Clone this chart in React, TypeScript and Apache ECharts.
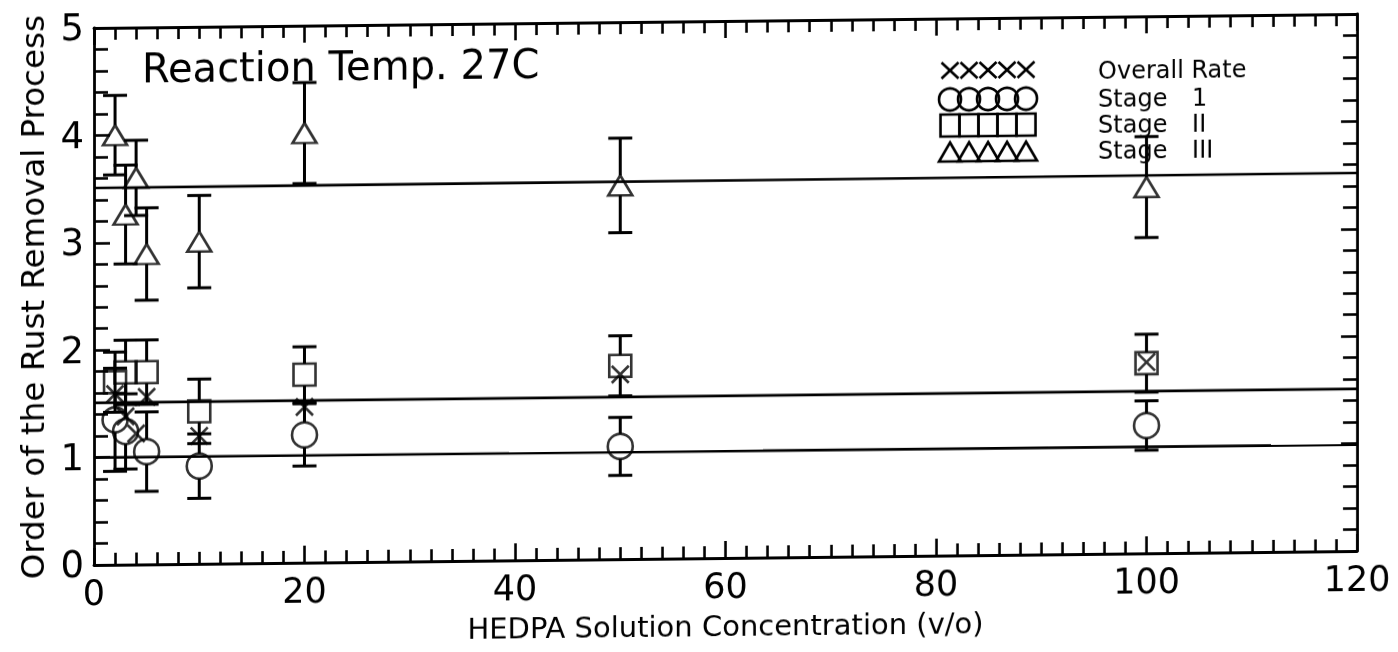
import React, { useEffect, useRef } from "react";
import * as echarts from "echarts";

const FONT = "'DejaVu Sans', 'Liberation Sans', sans-serif";
const INK = "#000";

// HEDPA concentration (v/o) for each measured point
const stage3X = [2, 3, 4, 5, 10, 20, 50, 100];
const stage3Y = [4.0, 3.26, 3.6, 2.89, 3.0, 4.0, 3.48, 3.41];
const stage3Err = [0.37, 0.46, 0.35, 0.43, 0.43, 0.47, 0.44, 0.47];

const stage2X = [2, 3, 5, 10, 20, 50, 100];
const stage2Y = [1.7, 1.79, 1.79, 1.42, 1.75, 1.8, 1.77];
const stage2Err = [0.28, 0.3, 0.3, 0.3, 0.26, 0.28, 0.27];

const stage1X = [2, 3, 5, 10, 20, 50, 100];
const stage1Y = [1.35, 1.24, 1.05, 0.91, 1.19, 1.05, 1.19];
const stage1Err = [0.48, 0.35, 0.37, 0.3, 0.29, 0.27, 0.23];

const overallX = [2, 3, 4, 5, 10, 20, 50, 100];
const overallY = [1.59, 1.38, 1.22, 1.56, 1.19, 1.45, 1.72, 1.78];

// fitted order lines
const fitX = [0, 120];
const fitStage3 = [3.51, 3.52];
const fitOverall = [1.51, 1.51];
const fitStage1 = [1.0, 0.99];

const xTicks = { min: 0, max: 120, interval: 20 };
const yTicks = { min: 0, max: 5, interval: 1 };

const legendRows = ["Overall Rate", "Stage", "Stage", "Stage"];
const legendNums = ["", "1", "II", "III"];

const CROSS = "path://M0,0L10,10M10,0L0,10";

function errorBars(xs: number[], ys: number[], errs: number[], gap: number) {
  return {
    type: "custom",
    silent: true,
    clip: false,
    data: xs.map((x, i) => [x, ys[i] - errs[i], ys[i] + errs[i], ys[i]]),
    encode: { x: 0, y: [1, 2] },
    renderItem: (_p: any, api: any) => {
      const x = api.value(0);
      const lo = api.coord([x, api.value(1)]);
      const hi = api.coord([x, api.value(2)]);
      const mid = api.coord([x, api.value(3)]);
      const hw = 12;
      const style = { stroke: INK, lineWidth: 3 };
      return {
        type: "group",
        children: [
          { type: "line", shape: { x1: hi[0], y1: hi[1], x2: mid[0], y2: Math.max(hi[1], mid[1] - gap) }, style },
          { type: "line", shape: { x1: lo[0], y1: lo[1], x2: mid[0], y2: Math.min(lo[1], mid[1] + gap) }, style },
          { type: "line", shape: { x1: hi[0] - hw, y1: hi[1], x2: hi[0] + hw, y2: hi[1] }, style },
          { type: "line", shape: { x1: lo[0] - hw, y1: lo[1], x2: lo[0] + hw, y2: lo[1] }, style },
        ],
      };
    },
    z: 3,
  };
}

function scatter(xs: number[], ys: number[], symbol: string, size: any) {
  return {
    type: "scatter",
    data: xs.map((x, i) => [x, ys[i]]),
    symbol,
    symbolSize: size,
    itemStyle: { color: "rgba(0,0,0,0)", borderColor: INK, borderWidth: 2.6 },
    emphasis: { disabled: true },
    z: 4,
  };
}

function fitLine(ys: number[]) {
  return {
    type: "line",
    data: fitX.map((x, i) => [x, ys[i]]),
    symbol: "none",
    lineStyle: { color: INK, width: 2.6 },
    z: 2,
  };
}

function axisCommon(showLabels: boolean, fontSize: number, margin: number, lineHeight: number) {
  return {
    axisLine: { show: true, onZero: false, lineStyle: { color: INK, width: 2.8 } },
    axisTick: { show: true, inside: true, lineStyle: { color: INK, width: 2.6 } },
    minorTick: { show: true, lineStyle: { color: INK, width: 2.6 } },
    splitLine: { show: false },
    axisLabel: {
      show: showLabels,
      color: INK,
      fontFamily: FONT,
      fontSize,
      lineHeight,
      margin,
      showMinLabel: true,
      showMaxLabel: true,
    },
  };
}

function legendGraphics() {
  const x0 = 950;
  const step = 19;
  const rowsY = [80, 109, 135, 162];
  const textY = [82, 110, 136, 162];
  const st = { stroke: INK, lineWidth: 2.6, fill: "none" };
  const children: any[] = [];
  for (let k = 0; k < 5; k++) {
    const cx = x0 + k * step;
    children.push({ type: "polyline", shape: { points: [[cx - 8.5, rowsY[0] - 8], [cx + 8.5, rowsY[0] + 8]] }, style: st });
    children.push({ type: "polyline", shape: { points: [[cx + 8.5, rowsY[0] - 8], [cx - 8.5, rowsY[0] + 8]] }, style: st });
    children.push({ type: "circle", shape: { cx, cy: rowsY[1], r: 11 }, style: st });
    children.push({ type: "rect", shape: { x: cx - 9.5, y: rowsY[2] - 11, width: 19, height: 22 }, style: st });
    children.push({
      type: "polygon",
      shape: { points: [[cx, rowsY[3] - 10], [cx + 11, rowsY[3] + 9], [cx - 11, rowsY[3] + 9]] },
      style: st,
    });
  }
  legendRows.forEach((t, i) => {
    children.push({
      type: "text",
      x: 1098,
      y: textY[i],
      style: { text: t, fill: INK, fontFamily: FONT, fontSize: 24, lineHeight: 24, verticalAlign: "middle" },
    });
    if (legendNums[i]) {
      children.push({
        type: "text",
        x: 1192,
        y: textY[i],
        style: { text: legendNums[i], fill: INK, fontFamily: FONT, fontSize: 24, lineHeight: 24, verticalAlign: "middle" },
      });
    }
  });
  return { type: "group", children, z: 10 };
}

export default function App() {
  const ref = useRef<HTMLDivElement>(null);

  useEffect(() => {
    if (!ref.current) return;
    const chart = echarts.init(ref.current, undefined, { renderer: "svg" });
    const xBase = {
      type: "value",
      ...xTicks,
      ...axisCommon(true, 35, 13, 30),
    } as any;
    xBase.axisTick.length = 17;
    xBase.minorTick.length = 12;
    xBase.minorTick.splitNumber = 10;
    const yBase = {
      type: "value",
      ...yTicks,
      ...axisCommon(true, 37, 10, 37),
    } as any;
    yBase.axisTick.length = 16;
    yBase.minorTick.length = 14;
    yBase.minorTick.splitNumber = 5;

    chart.setOption({
      animation: false,
      backgroundColor: "#fff",
      grid: { left: 94, right: 41, top: 28, bottom: 83, containLabel: false },
      xAxis: [
        {
          ...xBase,
          position: "bottom",
          name: "HEDPA Solution Concentration (v/o)",
          nameLocation: "middle",
          nameGap: 53,
          nameTextStyle: { color: INK, fontFamily: FONT, fontSize: 29, lineHeight: 29 },
        },
        {
          ...xBase,
          position: "top",
          axisLabel: { show: false },
        },
      ],
      yAxis: [
        {
          ...yBase,
          position: "left",
          name: "Order of the Rust Removal Process",
          nameLocation: "middle",
          nameGap: 45,
          nameTextStyle: { color: INK, fontFamily: FONT, fontSize: 32.5 },
        },
        {
          ...yBase,
          position: "right",
          axisLabel: { show: false },
        },
      ],
      graphic: [
        {
          type: "text",
          left: 142,
          top: 49,
          style: { text: "Reaction Temp. 27C", fill: INK, fontFamily: FONT, fontSize: 40 },
        },
        legendGraphics(),
      ],
      series: [
        fitLine(fitStage3),
        fitLine(fitOverall),
        fitLine(fitStage1),
        errorBars(stage3X, stage3Y, stage3Err, 10),
        errorBars(stage2X, stage2Y, stage2Err, 11),
        errorBars(stage1X, stage1Y, stage1Err, 12.5),
        scatter(stage3X, stage3Y, "triangle", [24, 20]),
        scatter(stage2X, stage2Y, "rect", 22),
        scatter(stage1X, stage1Y, "circle", 25),
        scatter(overallX, overallY, CROSS, 17),
      ],
    });
    return () => chart.dispose();
  }, []);

  return (
    <div
      ref={ref}
      style={{
        position: "fixed",
        left: 0,
        top: 0,
        width: 1398,
        height: 652,
        transform: "skewY(-0.636deg)",
        transformOrigin: "94px 0px",
      }}
    />
  );
}
